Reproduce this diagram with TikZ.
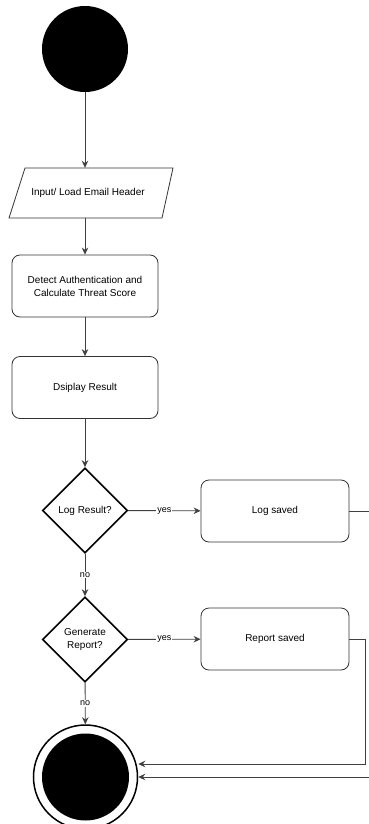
\documentclass[tikz,border=0pt]{standalone}
\usepackage{fontspec}
\setmainfont{Liberation Sans}
\usetikzlibrary{shapes.geometric,arrows.meta}
\begin{document}
\begin{tikzpicture}[x=1pt,y=-1pt,
  proc/.style={rectangle, rounded corners=8pt, draw=black!80, line width=0.8pt, minimum width=146pt, minimum height=62pt, align=center, inner sep=0pt, font=\fontsize{10}{13}\selectfont},
  dec/.style={diamond, draw=black, line width=1.6pt, minimum width=85pt, minimum height=85pt, aspect=1, inner sep=0pt, align=center, font=\fontsize{10}{13}\selectfont},
  conn/.style={draw=black!75, line width=0.9pt, -{Stealth[length=7pt,width=6.5pt]}},
  plainline/.style={draw=black!75, line width=0.9pt},
  lbl/.style={fill=white, inner sep=1pt, font=\fontsize{9}{10}\selectfont}
]
\clip (0,0) rectangle (369,824);
\fill[white] (0,0) rectangle (369,824);
\node[circle, fill=black, minimum size=86pt, inner sep=0pt] (start) at (85,49) {};
\node[minimum width=140pt, minimum height=50pt, inner sep=0pt, font=\fontsize{10}{13}\selectfont] (input) at (88,193) {Input/ Load Email Header};
\draw[line width=0.8pt, draw=black!80] (25,168) -- (173,168) -- (162,218) -- (9,218) -- cycle;
\node[proc] (detect) at (85,286) {Detect Authentication and\\Calculate Threat Score};
\node[proc] (display) at (85,387.5) {Dsiplay Result};
\node[dec] (logq) at (85,510.5) {Log Result?};
\node[proc, minimum width=148pt] (logsaved) at (275,511) {Log saved};
\node[dec] (repq) at (85,639.5) {Generate\\Report?};
\node[proc, minimum width=148pt] (repsaved) at (275,639) {Report saved};
\node[circle, draw=black, line width=1.5pt, minimum size=104pt, inner sep=0pt] (end) at (85.5,777) {};
\node[circle, fill=black, minimum size=87pt, inner sep=0pt] (endin) at (end) {};
\coordinate (exitA) at (380,511);
\coordinate (cornerB) at (365,764);
\coordinate (entryB) at (380,777);
\draw[conn] (start) -- (input.north -| start);
\draw[conn] (input.south -| start) -- (detect);
\draw[conn] (detect) -- (display);
\draw[conn] (display) -- (logq);
\draw[conn] (logq) -- node[lbl]{yes} (logsaved);
\draw[conn] (logq) -- node[lbl]{no} (repq);
\draw[conn] (repq) -- node[lbl]{yes} (repsaved);
\draw[conn] (repq) -- node[lbl]{no} (end);
\draw[plainline] (logsaved.east) -- (exitA);
\draw[conn] (repsaved.east) -| (cornerB) -- (end.east |- cornerB);
\draw[conn] (entryB) -- (end.east);
\end{tikzpicture}
\end{document}
